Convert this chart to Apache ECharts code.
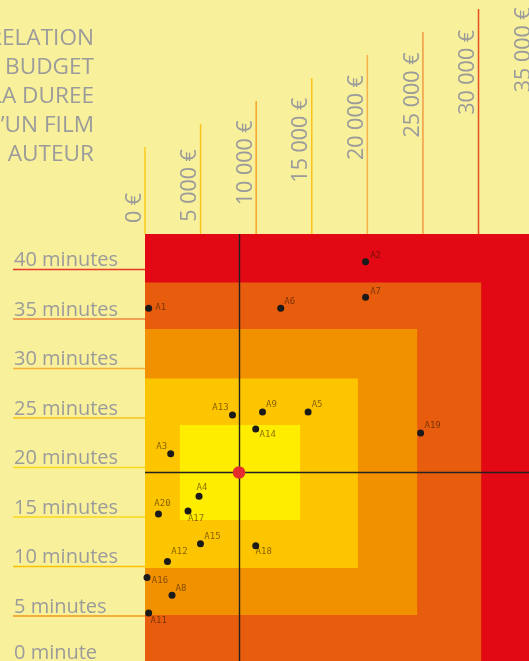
<!DOCTYPE html>
<html><head><meta charset="utf-8">
<script src="https://cdn.jsdelivr.net/npm/echarts@6/dist/echarts.min.js"></script>
<style>html,body{margin:0;padding:0;background:#f8f09b;overflow:hidden}#c{width:529px;height:661px}</style>
</head><body><div id="c"></div>
<script>
// ---- data ----
const titleLines = ["LA RELATION", "ENTRE DU BUDGET", "ET LA DUREE", "D’UN FILM", "SELON SON AUTEUR"];
const budgetTicks = [0, 5000, 10000, 15000, 20000, 25000, 30000, 35000];
const budgetTickLabels = ["0 €", "5 000 €", "10 000 €", "15 000 €", "20 000 €", "25 000 €", "30 000 €", "35 000 €"];
const durationTicks = [0, 5, 10, 15, 20, 25, 30, 35, 40];
const durationTickLabels = ["0 minute", "5 minutes", "10 minutes", "15 minutes", "20 minutes", "25 minutes", "30 minutes", "35 minutes", "40 minutes"];
const filmNames     = ["A1", "A2", "A3", "A4", "A5", "A6", "A7", "A8", "A9", "A11", "A12", "A13", "A14", "A15", "A16", "A17", "A18", "A19", "A20"];
const filmBudgets   = [330, 19840, 2310, 4860, 14670, 12210, 19840, 2430, 10570, 330, 2020, 7870, 9960, 4990, 180, 3870, 9960, 24790, 1210];
const filmDurations = [36.1, 40.8, 21.4, 17.1, 25.6, 36.1, 37.2, 7.1, 25.6, 5.3, 10.5, 25.3, 23.9, 12.3, 8.9, 15.6, 12.1, 23.5, 15.3];
const meanBudget = 8460;
const meanDuration = 19.5;
const bandBudgetMin   = [0, 0, 0, 0, 3140];
const bandBudgetMax   = [35500, 30240, 24480, 19150, 13950];
const bandDurationMin = [0, 0.3, 5.1, 9.85, 14.7];
const bandDurationMax = [43.6, 38.7, 34.0, 29.0, 24.3];

// ---- axis extents (visible window) ----
const budgetMin = 0, budgetMax = 34540;
const durationMin = 0.45, durationMax = 43.6;

// ---- styles ----
const bandColors = ['#e20814', '#e85c0d', '#f19100', '#fdc500', '#ffed00'];
const durTickColors = ['#e85c0d', '#f29a1a', '#f9c200', '#fbd61a', '#fbd61a', '#f9c41a', '#f5b03a', '#ee8a3a', '#e63a2a'];
const budTickColors = ['#f9cc1a', '#f9c51a', '#f5a623', '#f9c31a', '#f6b24a', '#f29b45', '#e84e1b', '#e3261b'];
const labelOffsets = {
  A1: [12, -1], A2: [10, -6], A3: [-9, -7], A4: [3, -9], A5: [9, -7], A6: [9, -7], A7: [10, -6],
  A8: [9, -7], A9: [9, -7], A11: [10, 8], A12: [12, -10], A13: [-12, -7], A14: [12, 6],
  A15: [12, -7], A16: [13, 3], A17: [8, 8], A18: [8, 6], A19: [12, -7], A20: [4, -10]
};
const gray = '#9b9b9b';
const FONT = '"Open Sans", "DejaVu Sans", sans-serif';

const chart = echarts.init(document.getElementById('c'), null, {renderer: 'canvas'});

const option = {
  backgroundColor: '#f8f09b',
  animation: false,
  grid: {left: 145, right: 0, top: 234, bottom: 0},
  xAxis: {type: 'value', min: budgetMin, max: budgetMax, show: false},
  yAxis: {type: 'value', min: durationMin, max: durationMax, show: false},
  graphic: [{
    type: 'text', x: 94, y: 24,
    style: {text: titleLines.join('\n'), align: 'right', verticalAlign: 'top',
      fill: gray, font: '22.6px ' + FONT, lineHeight: 29}
  }],
  series: [
    {
      type: 'custom', clip: false, silent: true, z: 1,
      data: bandColors.map((c, i) => [bandBudgetMin[i], bandBudgetMax[i], bandDurationMin[i], bandDurationMax[i], i]),
      encode: {x: [0, 1], y: [2, 3]},
      renderItem(params, api) {
        const p0 = api.coord([api.value(0), api.value(2)]);
        const p1 = api.coord([api.value(1), api.value(3)]);
        return {type: 'rect', shape: {x: p0[0], y: p1[1], width: p1[0] - p0[0], height: p0[1] - p1[1]},
          style: {fill: bandColors[api.value(4)]}};
      }
    },
    {
      type: 'custom', clip: false, silent: true, z: 2,
      data: durationTicks.map((v, i) => [0, v, i]),
      encode: {x: 0, y: 1},
      renderItem(params, api) {
        const i = api.value(2);
        const p = api.coord([0, api.value(1)]);
        const lift = i === 0 ? 12.5 : 9;
        return {type: 'group', children: [
          {type: 'line', shape: {x1: 13, y1: p[1], x2: p[0], y2: p[1]}, style: {stroke: durTickColors[i], lineWidth: 1.5}},
          {type: 'text', x: 14, y: p[1] - lift, style: {text: durationTickLabels[i], fill: gray, font: '20px ' + FONT, align: 'left', verticalAlign: 'middle'}}
        ]};
      }
    },
    {
      type: 'custom', clip: false, silent: true, z: 2,
      data: budgetTicks.map((v, i) => [v, durationMax, i]),
      encode: {x: 0, y: 1},
      renderItem(params, api) {
        const i = api.value(2);
        const p = api.coord([api.value(0), api.value(1)]);
        return {type: 'group', children: [
          {type: 'line', shape: {x1: p[0], y1: 147 - 23 * i, x2: p[0], y2: p[1]}, style: {stroke: budTickColors[i], lineWidth: 1.5}},
          {type: 'text', x: p[0] - 10.5, y: 208 - 22.6 * i, rotation: Math.PI / 2,
            style: {text: budgetTickLabels[i], fill: gray, font: '21.5px ' + FONT, align: 'center', verticalAlign: 'middle'}}
        ]};
      }
    },
    {
      type: 'scatter', z: 3,
      symbol: 'circle', symbolSize: 7,
      itemStyle: {color: '#1a1a1a', opacity: 1},
      data: filmNames.map((n, i) => ({
        name: n, value: [filmBudgets[i], filmDurations[i]],
        label: {offset: labelOffsets[n]}
      })),
      label: {show: true, position: 'inside', formatter: '{b}', fontSize: 9,
        fontFamily: '"DejaVu Sans Mono", monospace', color: 'rgba(50,25,0,0.6)'},
      markLine: {
        silent: true, symbol: 'none', animation: false, z: 2,
        label: {show: false},
        lineStyle: {color: '#222', width: 1.4, type: 'solid', opacity: 1},
        data: [{xAxis: meanBudget}, {yAxis: meanDuration}]
      }
    },
    {
      type: 'scatter', z: 8, symbol: 'circle', symbolSize: 12.5,
      itemStyle: {color: '#e52d2d', opacity: 1},
      data: [[meanBudget, meanDuration]]
    }
  ]
};
chart.setOption(option);
</script>
</body></html>
